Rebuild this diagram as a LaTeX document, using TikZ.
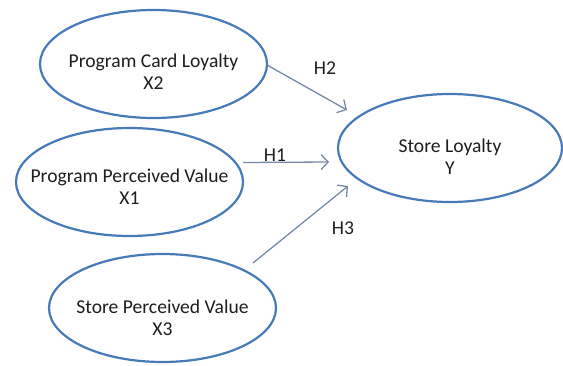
\documentclass[tikz,border=0pt]{standalone}
\usepackage{fontspec}
\setmainfont{Carlito}
\usetikzlibrary{shapes.geometric,arrows.meta}
\definecolor{ovalblue}{RGB}{70,122,184}
\definecolor{linkgray}{RGB}{118,138,168}
\definecolor{labeltext}{RGB}{30,30,30}
\tikzset{
  construct/.style={ellipse, draw=ovalblue, line width=2.2pt, fill=white,
    minimum width=227pt, minimum height=108pt, inner sep=0pt},
  caption/.style={align=center, text=labeltext, font=\fontsize{19.6}{21.5}\selectfont},
  hyp/.style={text=labeltext, font=\fontsize{19.6}{22}\selectfont, inner sep=0pt},
  link/.style={draw=linkgray, line width=1.3pt,
    -{Straight Barb[length=7pt,width=15pt,line width=1.3pt]}}
}
\begin{document}
\begin{tikzpicture}[x=1pt,y=-1pt]
  \useasboundingbox (0,0) rectangle (563,365);
  % latent constructs
  \node[construct] (pcl) at (153.5,64) {};
  \node[construct] (ppv) at (129.5,182) {};
  \node[construct] (spv) at (162.5,308) {};
  \node[construct, minimum width=224pt] (sl) at (450,148) {};
  % construct captions
  \node[caption] (tpcl) at ([yshift=-7.5pt]pcl.center) {Program Card Loyalty\\X2};
  \node[caption] (tppv) at ([yshift=-4.5pt]ppv.center) {Program Perceived Value\\X1};
  \node[caption] (tspv) at ([yshift=-10pt]spv.center) {Store Perceived Value\\X3};
  \node[caption] (tsl) at ([yshift=-8.5pt]sl.center) {Store Loyalty\\Y};
  % hypothesised paths
  \coordinate (h2s) at (267,65);
  \coordinate (h2e) at (347,110);
  \coordinate (h1s) at (243,162.5);
  \coordinate (h1e) at (329,162);
  \coordinate (h3s) at (253,263);
  \coordinate (h3e) at (348,186);
  \draw[link] (h2s) -- (h2e);
  \draw[link] (h1s) -- (h1e);
  \draw[link] (h3s) -- (h3e);
  \node[hyp] (lh2) at (325,68) {H2};
  \node[hyp] (lh1) at (275,155) {H1};
  \node[hyp] (lh3) at (343,228) {H3};
\end{tikzpicture}
\end{document}
